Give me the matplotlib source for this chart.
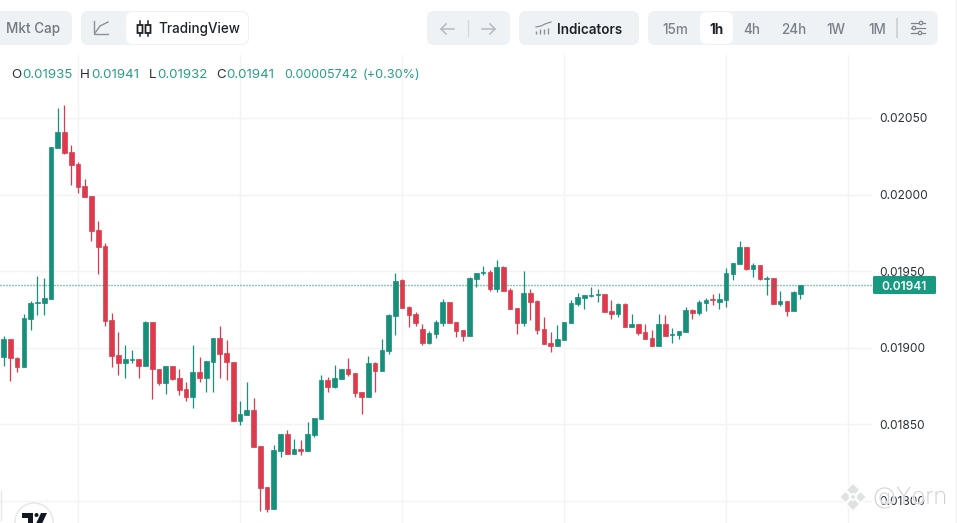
import numpy as np
import matplotlib
matplotlib.use('Agg')
import matplotlib.pyplot as plt
from matplotlib.patches import FancyBboxPatch, Circle, Polygon
import matplotlib.patheffects as pe

plt.rcParams['font.family'] = ['Inter', 'DejaVu Sans']

# 1h candles, prices in millionths
opens = [18942,19058,18936,18877,19190,19295,19295,19321,20307,20409,
         20278,20200,20056,19991,19769,19665,19182,18951,18903,18923,
         18925,18884,19169,18864,18773,18881,18801,18731,18681,18840,
         18801,18910,19064,18964,18908,18525,18564,18592,18359,18089,
         17950,18329,18435,18309,18337,18329,18433,18538,18790,18744,
         18799,18860,18836,18712,18681,18901,18845,18982,19210,19439,
         19267,19221,19123,19032,19093,19164,19299,19169,19117,19077,
         19452,19486,19495,19382,19530,19378,19258,19162,19358,19306,
         19121,19032,19014,19051,19162,19286,19325,19338,19344,19351,
         19240,19220,19286,19136,19155,19103,19064,19012,19155,19086,
         19083,19105,19249,19227,19294,19316,19299,19312,19484,19547,
         19658,19514,19540,19451,19455,19286,19305,19240,19350]
highs = [19077,19058,18942,19221,19308,19469,19456,20309,20565,20585,
         20324,20215,20104,19991,19830,19682,19225,19103,19021,18986,
         18925,19177,19169,18864,18881,18881,18864,18779,19016,18942,
         18914,19064,19143,19051,18908,18651,18777,18673,18359,18089,
         18364,18435,18464,18407,18398,18516,18540,18823,18808,18888,
         18860,18936,18836,18712,18947,18908,19060,19221,19491,19449,
         19273,19234,19156,19110,19180,19319,19299,19169,19117,19460,
         19489,19536,19506,19573,19534,19388,19258,19499,19382,19312,
         19201,19103,19149,19166,19312,19360,19344,19397,19384,19351,
         19310,19292,19290,19223,19155,19155,19116,19223,19216,19129,
         19109,19264,19253,19312,19325,19351,19357,19521,19553,19697,
         19658,19553,19540,19468,19455,19371,19305,19371,19410]
lows = [18881,18783,18842,18877,19116,19216,19212,19321,20307,20267,
        20063,20011,19982,19697,19482,19143,18877,18821,18803,18899,
        18803,18884,18666,18760,18699,18790,18692,18655,18609,18777,
        18714,18714,18803,18790,18525,18498,18564,18355,17935,17931,
        17950,18290,18308,18309,18302,18329,18416,18538,18712,18740,
        18799,18818,18679,18568,18681,18712,18845,18960,19082,19262,
        19136,19143,19019,19027,19066,19143,19162,19071,19047,19077,
        19399,19476,19371,19367,19373,19256,19090,19145,19182,19090,
        19027,18975,19014,19051,19162,19273,19253,19331,19299,19233,
        19186,19201,19136,19136,19083,19057,19012,19012,19077,19033,
        19057,19105,19188,19214,19238,19279,19253,19266,19442,19547,
        19508,19462,19442,19344,19288,19273,19207,19240,19320]
closes = [19058,18931,18877,19195,19290,19299,19323,20309,20409,20274,
          20196,20052,19987,19765,19660,19177,18949,18903,18925,18927,
          18884,19169,18860,18773,18881,18799,18727,18681,18840,18801,
          18914,19064,18962,18905,18525,18566,18592,18355,18087,17950,
          18331,18435,18309,18339,18329,18437,18540,18790,18744,18803,
          18860,18829,18707,18681,18899,18845,18984,19214,19434,19262,
          19217,19164,19032,19095,19169,19299,19162,19112,19077,19456,
          19489,19493,19382,19526,19373,19256,19164,19358,19301,19117,
          19027,19014,19056,19166,19292,19331,19344,19347,19351,19233,
          19218,19288,19136,19155,19096,19057,19012,19155,19077,19090,
          19109,19247,19227,19299,19312,19310,19318,19488,19553,19658,
          19514,19540,19449,19458,19288,19305,19240,19364,19410]

price_ticks = [0.0180, 0.0185, 0.0190, 0.0195, 0.0200, 0.0205]
day_ticks = [11, 35, 59, 83, 107, 125]
last_price = 0.01941
legend_parts = ['O', '0.01935', 'H', '0.01941', 'L', '0.01932', 'C', '0.01941', '0.00005742', '(+0.30%)']
time_buttons = ['15m', '1h', '4h', '24h', '1W', '1M']

GREEN = '#16907a'
RED = '#dc3b4d'
GRID = '#f1f3f5'
PANEL = '#eff2f5'
TEAL = '#2a9d8a'

o = np.array(opens) / 1e6
h = np.array(highs) / 1e6
l = np.array(lows) / 1e6
c = np.array(closes) / 1e6
idx = np.arange(len(o))
colors = [GREEN if cl >= op else RED for op, cl in zip(o, c)]

fig = plt.figure(figsize=(9.57, 5.23), dpi=100, facecolor='white')
ax = fig.add_axes([0, 0, 872 / 957, 468 / 523])
ax.set_xlim(-0.548, 128.6)
ax.set_ylim(0.017856, 0.020911)
for s in ax.spines.values():
    s.set_visible(False)

ax.set_axisbelow(True)
ax.grid(True, color=GRID, lw=1)
ax.set_xticks(day_ticks)
ax.set_xticklabels([])
ax.tick_params(axis='x', length=0)
ax.yaxis.tick_right()
ax.set_yticks(price_ticks)
ax.set_yticklabels(['%.5f' % p for p in price_ticks], fontsize=8.6, color='#2b3139')
ax.tick_params(axis='y', length=0, pad=5.3)

ax.vlines(idx, l, h, colors=colors, lw=0.9, zorder=2)
ax.bar(idx, c - o, bottom=o, width=0.68, color=colors, edgecolor=colors, lw=0.5, zorder=3)
ax.axhline(last_price, color='#12917a', lw=1, ls=(0, (0.72, 1.44)), zorder=4)

# header, badge and watermark are drawn in pixels on top of the chart
ui = fig.add_axes([0, 0, 1, 1], facecolor='none')
ui.set_xlim(0, 957)
ui.set_ylim(523, 0)
ui.axis('off')


def box(x0, y0, x1, y1, color=PANEL, r=7, z=1):
    ui.add_patch(FancyBboxPatch((x0 + r, y0 + r), x1 - x0 - 2 * r, y1 - y0 - 2 * r,
                                boxstyle='round,pad=%d' % r, fc=color, ec='none', zorder=z))


def label(x, s, color, weight='medium', size=9.7, ha='center', y=28):
    ui.text(x, y, s, color=color, fontsize=size, fontweight=weight, ha=ha, va='center_baseline', zorder=5)


box(-12, 11, 72, 45)
box(81, 11, 249, 45)
box(126, 12, 248, 44, color='white', z=2)
box(427, 11, 510, 45)
box(519, 11, 639, 45)
box(648, 11, 938, 45)
box(700, 12, 733, 44, color='white', z=2)

label(33, 'Mkt Cap', '#6f7780')
label(158, 'TradingView', '#1e2329', ha='left')
label(557, 'Indicators', '#1e2329', weight='semibold', ha='left')

button_x = [675, 716, 752, 794, 836, 877]
for x, s in zip(button_x, time_buttons):
    if s == '1h':
        label(x, s, '#1e2329', weight='bold')
    else:
        label(x, s, '#79818a')

# small icons
ui.plot([94, 94, 108], [21, 34, 34], color='#8a9199', lw=1, zorder=5)
ui.plot([95, 100, 108], [33, 26, 22], color='#8a9199', lw=1, zorder=5)
for x in [140, 148]:
    ui.plot([x, x], [21, 36], color='#1e2329', lw=1.1, zorder=5)
    ui.add_patch(FancyBboxPatch((x - 2.5, 25), 5, 8, boxstyle='round,pad=0', fc='white', ec='#1e2329', lw=1.3, zorder=6))
ui.plot([441, 454], [29, 29], color='#b4bac1', lw=1.1, zorder=5)
ui.plot([446, 441, 446], [24, 29, 34], color='#b4bac1', lw=1.1, zorder=5)
ui.plot([482, 495], [29, 29], color='#b4bac1', lw=1.1, zorder=5)
ui.plot([490, 495, 490], [24, 29, 34], color='#b4bac1', lw=1.1, zorder=5)
ui.plot([468, 468], [20, 36], color='#d5d9de', lw=1, zorder=5)
ui.vlines([536, 540, 544, 548], [31, 29, 29, 28], [34, 34, 34, 34], color='#8a9199', lw=1, zorder=5)
ui.plot([536, 541, 545, 551], [27, 26, 24, 22], color='#8a9199', lw=0.9, zorder=5)
ui.plot([897, 897], [19, 37], color='#d0d4d9', lw=1.4, zorder=5)
for yy, kx in zip([23, 28, 33], [921, 914, 920]):
    ui.plot([911, 925], [yy, yy], color='#7d858d', lw=0.9, zorder=5)
    ui.add_patch(Circle((kx, yy), 1.7, fc=PANEL, ec='#7d858d', lw=0.9, zorder=6))

# OHLC legend
legend_x = [11, 22, 80, 91, 149, 157, 216, 226, 284, 363]
legend_size = [9.6, 9.6, 9.6, 9.6, 9.6, 9.6, 9.6, 9.6, 9.0, 9.2]
for x, s, fs in zip(legend_x, legend_parts, legend_size):
    col = '#2b3139' if s in 'OHLC' else TEAL
    ui.text(x, 74, s, color=col, fontsize=fs, ha='left', va='center_baseline', zorder=5)

# last price badge
ui.add_patch(FancyBboxPatch((873, 276), 63, 18, boxstyle='round,pad=0,rounding_size=1.5', fc='#179a80', ec='none', zorder=5))
ui.text(904.5, 285, '%.5f' % last_price, color='white', fontsize=8.6, fontweight='semibold', ha='center', va='center_baseline', zorder=6)

ui.axvline(956, color='#eef0f2', lw=1)
ui.plot([0.5, 0.5], [491, 520], color='#e4e6e8', lw=1)

# TradingView badge, bottom left
ui.add_patch(Circle((34, 522), 19, fc='white', ec='#e3e5e8', lw=1, zorder=5))
ui.add_patch(Polygon([[22, 513], [33, 513], [33, 530], [28, 530], [28, 518], [22, 518]], fc='#131722', ec='none', zorder=6))
ui.add_patch(Circle((36.5, 515), 2, fc='#131722', ec='none', zorder=6))
ui.add_patch(Polygon([[41, 513], [47, 513], [39, 530], [33, 530]], fc='#131722', ec='none', zorder=6))
ui.set_xlim(0, 957)
ui.set_ylim(523, 0)

# watermark
halo = [pe.withStroke(linewidth=1.2, foreground='white')]
for cx, cy, hw in [(853, 490, 7), (845.5, 497, 6), (860.5, 497, 6), (853, 504, 7), (853, 497, 3.5)]:
    ui.add_patch(Polygon([[cx - hw, cy], [cx, cy - hw], [cx + hw, cy], [cx, cy + hw]], fc='#dcdee0', ec='white', lw=1.2, alpha=0.9, zorder=7))
ui.text(873, 498, '@Yorn', color='#c4c7cb', fontsize=17, fontweight='light', ha='left', va='center', alpha=0.8, zorder=8, path_effects=halo)

fig.savefig('out.png', dpi=100)
